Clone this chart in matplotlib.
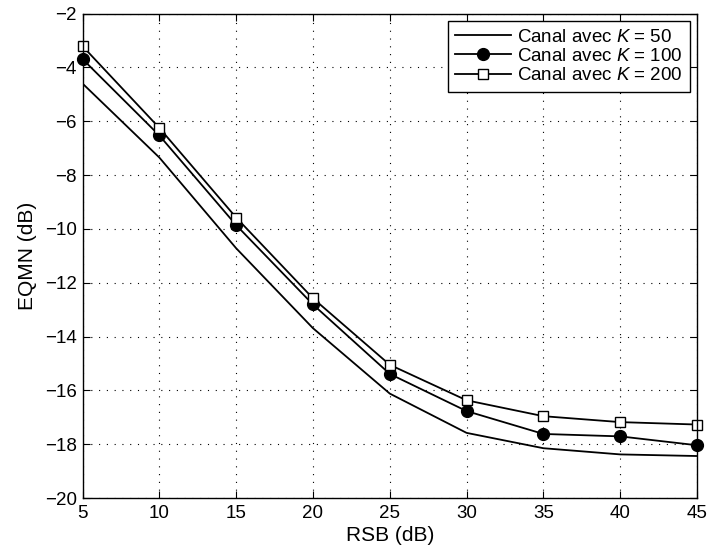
import matplotlib
matplotlib.use("Agg")
import matplotlib.pyplot as plt

rsb = [5, 10, 15, 20, 25, 30, 35, 40, 45]
eqmn_k50 = [-4.6, -7.35, -10.72, -13.69, -16.12, -17.58, -18.15, -18.38, -18.44]
eqmn_k100 = [-3.69, -6.53, -9.86, -12.81, -15.39, -16.77, -17.62, -17.71, -18.04]
eqmn_k200 = [-3.21, -6.25, -9.58, -12.58, -15.05, -16.37, -16.96, -17.18, -17.27]
labels = [r"Canal avec $\mathit{K}$ = 50", r"Canal avec $\mathit{K}$ = 100", r"Canal avec $\mathit{K}$ = 200"]
xticks = [5, 10, 15, 20, 25, 30, 35, 40, 45]
yticks = [-20, -18, -16, -14, -12, -10, -8, -6, -4, -2]

plt.rcParams['font.family'] = ['Liberation Sans', 'DejaVu Sans']
plt.rcParams['mathtext.fontset'] = 'custom'
plt.rcParams['mathtext.rm'] = 'Liberation Sans'
plt.rcParams['mathtext.it'] = 'Liberation Sans:italic'

fig = plt.figure(figsize=(7.07, 5.52), dpi=100)
ax = fig.add_axes([0.1167, 0.0978, 0.8692, 0.8777])

ax.plot(rsb, eqmn_k50, color='black', lw=1.3, label=labels[0])
ax.plot(rsb, eqmn_k100, color='black', lw=1.3, marker='o', markersize=8.5,
        markerfacecolor='black', label=labels[1], clip_on=False)
ax.plot(rsb, eqmn_k200, color='black', lw=1.3, marker='s', markersize=7,
        markerfacecolor='white', markeredgewidth=1.0, label=labels[2], clip_on=False)

ax.set_xlim(5, 45)
ax.set_ylim(-20, -2)
ax.set_xticks(xticks)
ax.set_yticks(yticks)
ax.set_yticklabels([str(v).replace('-', '\u2212') for v in yticks])
ax.tick_params(direction='in', top=True, right=True, labelsize=13.5, length=5, width=0.8)
ax.tick_params(axis='x', pad=5)
ax.tick_params(axis='y', pad=4)
ax.grid(True, linestyle=(0, (1, 6)), color='black', lw=0.8)
for s in ax.spines.values():
    s.set_linewidth(1.0)

ax.set_xlabel('RSB (dB)', fontsize=15, labelpad=3)
ax.set_ylabel('EQMN (dB)', fontsize=15, labelpad=6)

leg = ax.legend(loc='upper right', fontsize=13.5, fancybox=False, framealpha=1,
                edgecolor='black', handlelength=3.0, borderaxespad=0.4,
                borderpad=0.4, labelspacing=0.12, handletextpad=0.27)
leg.get_frame().set_linewidth(1.0)

fig.savefig('out.png', dpi=100)
